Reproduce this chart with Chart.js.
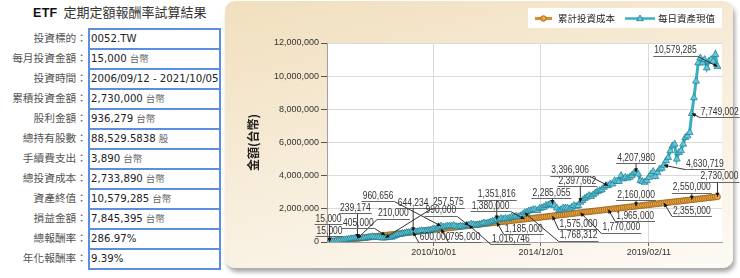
<!DOCTYPE html>
<html><head><meta charset="utf-8">
<script src="https://cdn.jsdelivr.net/npm/chart.js@4.4.1/dist/chart.umd.min.js"></script>
<style>
html,body{margin:0;padding:0;background:#fff;width:740px;height:278px;overflow:hidden;}
#title{position:absolute;left:33px;top:3px;font:13px 'Noto Sans CJK TC';color:#333;white-space:nowrap;line-height:18px}
#title b{font:bold 12.5px 'Liberation Sans';color:#111;letter-spacing:0.3px;margin-right:6px}
.lab{position:absolute;left:0;width:87px;text-align:right;font:10.7px 'Noto Sans CJK TC';color:#555;line-height:20px;height:20px;white-space:nowrap}
.val{position:absolute;left:88px;width:133px;height:20px;box-sizing:border-box;border:2px solid #5b8ee0;border-bottom:none;font:10.2px 'DejaVu Sans';color:#222;line-height:17px;padding-left:1px;white-space:nowrap;overflow:hidden;background:#fff}
.val.last{height:22px;border-bottom:2px solid #5b8ee0}
.val span{font:9.5px 'Noto Sans CJK TC';color:#666;margin-left:3px}
#panel{position:absolute;left:225px;top:1px;width:508px;height:267px;border-radius:10px;background:linear-gradient(165deg,#f1dfbd 0%,#f7ecd9 45%,#fdfaf5 100%);box-shadow:2px 4px 4px rgba(0,0,0,0.35)}
#c{position:absolute;left:225px;top:0}
</style></head>
<body>
<div id="title"><b>ETF</b>定期定額報酬率試算結果</div>
<div id="tbl"></div>
<div id="panel"></div>
<canvas id="c" width="515" height="278"></canvas>
<script>
// ---- summary table ----
const tableLabels = ['投資標的：','每月投資金額：','投資時間：','累積投資金額：','股利金額：','總持有股數：','手續費支出：','總投資成本：','資產終值：','損益金額：','總報酬率：','年化報酬率：'];
const tableValues = ['0052.TW','15,000','2006/09/12 - 2021/10/05','2,730,000','936,279','88,529.5838','3,890','2,733,890','10,579,285','7,845,395','286.97%','9.39%'];
const tableUnits  = ['','台幣','','台幣','台幣','股','台幣','台幣','台幣','台幣','',''];

// ---- chart data ----
const seriesNames = ['累計投資成本','每日資產現值'];
const yTitle = '金額(台幣)';
const startDate = '2006/09/12';
const xTickDates = ['2010/10/01','2014/12/01','2019/02/11'];
const yTicks = [0,2000000,4000000,6000000,8000000,10000000,12000000];

// cumulative cost (thousand TWD), monthly
const costK = [15,30,45,60,75,90,105,120,135,150,165,180,
195,210,225,240,255,270,285,300,315,330,345,360,
375,390,405,420,435,450,465,480,495,510,525,540,
555,570,585,600,615,630,645,660,675,690,705,720,
735,750,765,780,795,810,825,840,855,870,885,900,
915,930,945,960,975,990,1005,1020,1035,1050,1065,1080,
1095,1110,1125,1140,1155,1170,1185,1200,1215,1230,1245,1260,
1275,1290,1305,1320,1335,1350,1365,1380,1395,1410,1425,1440,
1455,1470,1485,1500,1515,1530,1545,1560,1575,1590,1605,1620,
1635,1650,1665,1680,1695,1710,1725,1740,1755,1770,1785,1800,
1815,1830,1845,1860,1875,1890,1905,1920,1935,1950,1965,1980,
1995,2010,2025,2040,2055,2070,2085,2100,2115,2130,2145,2160,
2175,2190,2205,2220,2235,2250,2265,2280,2295,2310,2325,2340,
2355,2370,2385,2400,2415,2430,2445,2460,2475,2490,2505,2520,
2535,2550,2565,2580,2595,2610,2625,2640,2655,2670,2685,2700,
2715,2730];

// asset value (TWD), monthly
const assetValue = [15000,31000,48000,66000,
80000,97000,112000,128000,150000,172000,198000,200000,225000,239174,232000,240000,
225000,250000,275000,300000,320000,290000,280000,290000,260000,235000,257575,270000,
280000,290000,340000,400000,450000,460000,510000,520000,570000,575000,590000,644234,
610000,620000,660000,680000,640000,650000,700000,700000,760000,780000,810000,890000,
960656,900000,920000,960000,970000,960000,1000000,930000,900000,960000,930000,950000,
1000000,1016746,1080000,1040000,1000000,1030000,1060000,1100000,1150000,1120000,1150000,1200000,
1250000,1280000,1351816,1340000,1420000,1380000,1420000,1400000,1450000,1500000,1510000,1560000,
1520000,1580000,1650000,1768312,1800000,1870000,1900000,1950000,1950000,1900000,2030000,2060000,
2100000,2200000,2230000,2290000,2285055,2200000,2050000,1900000,1950000,2050000,2050000,2050000,
2000000,2100000,2200000,2150000,2200000,2397662,2500000,2620000,2700000,2800000,2750000,2850000,
2950000,3050000,3100000,3150000,3300000,3400000,3396906,3500000,3500000,3700000,3650000,3650000,
4000000,3800000,3900000,3850000,3900000,4000000,4150000,4207980,4100000,3700000,3650000,3600000,
3700000,3900000,4100000,4250000,3950000,4200000,4400000,4450000,4630719,4900000,5100000,5500000,
5800000,5900000,5000000,5400000,5500000,5900000,6300000,6400000,6600000,7749002,8700000,9700000,
10800000,11100000,10800000,11000000,10500000,10900000,11000000,10900000,11300000,10579285];

// months that carry a value callout
const annotIdx = [0,13,26,39,52,65,78,91,104,117,130,143,156,169,181];
// callout label offsets (px) from their point
const valueLabelOffsets = [[-1,-23],[-2,-30],[63,-35],[0,-28],[-63,-30],[42,14],[0,-25],[54,23],[-1,-11],[-3,-21],[-38,-15],[0,-14],[41,-1],[28,-1],[-42,-16]];
const costLabelOffsets  = [[0,-11],[36,-25],[-27,-12],[22,5],[24,8],[-28,-15],[27,7],[-34,-13],[26,8],[41,15],[27,7],[0,-11],[28,8],[0,-12],[2,-20]];

// ---- build table ----
const tbl = document.getElementById('tbl');
tableLabels.forEach((l,i)=>{
  const a = document.createElement('div'); a.className='lab'; a.style.top=(28+20*i)+'px'; a.textContent=l; tbl.appendChild(a);
  const v = document.createElement('div'); v.className='val'+(i===tableLabels.length-1?' last':''); v.style.top=(28+20*i)+'px';
  v.textContent = tableValues[i];
  if (tableUnits[i]) { const s=document.createElement('span'); s.textContent=tableUnits[i]; v.appendChild(s); }
  tbl.appendChild(v);
});

// ---- chart ----
const costSeries = costK.map(v=>v*1000);
function monthsFromStart(d){
  const [y0,m0,d0] = startDate.split('/').map(Number);
  const [y,m,dd] = d.split('/').map(Number);
  return (y-y0)*12 + (m-m0) + (dd-d0)/30.44;
}
const xTickPos = xTickDates.map(monthsFromStart);
const fmt = v => Number(v).toLocaleString('en-US');

const bgPlugin = {
  id:'bg',
  beforeDraw(chart){
    const {ctx, chartArea:a} = chart;
    ctx.save(); ctx.fillStyle='#fff'; ctx.fillRect(a.left,a.top,a.right-a.left,a.bottom-a.top); ctx.restore();
  }
};

function drawCallout(c, px, py, text, dx, dy){
  const sx = 0.85;
  c.font = '10px "Liberation Sans"';
  const w = c.measureText(text).width * sx;
  const cx = px+dx, cy = py+dy;
  const l = cx - w/2 - 1, r = cx + w/2 + 1, uy = Math.round(cy + 5) + 0.5;
  c.fillStyle = '#333';
  c.save(); c.translate(cx, cy); c.scale(sx,1); c.textAlign='center'; c.textBaseline='middle'; c.fillText(text,0,0); c.restore();
  c.strokeStyle = '#666'; c.lineWidth = 1;
  c.beginPath(); c.moveTo(l,uy); c.lineTo(r,uy); c.stroke();
  const sxp = px < l ? l : (px > r ? r : px);
  c.strokeStyle = '#333';
  c.beginPath(); c.moveTo(sxp, uy); c.lineTo(px, py); c.stroke();
  const dist = Math.hypot(px-sxp, py-uy);
  if (dist > 3){
    const ang = Math.atan2(py-uy, px-sxp), len = 4.5;
    c.fillStyle = '#111';
    c.beginPath(); c.moveTo(px,py);
    c.lineTo(px - len*Math.cos(ang-0.45), py - len*Math.sin(ang-0.45));
    c.lineTo(px - len*Math.cos(ang+0.45), py - len*Math.sin(ang+0.45));
    c.closePath(); c.fill();
  }
}

const annotPlugin = {
  id:'annot',
  afterDatasetsDraw(chart){
    const c = chart.ctx;
    const metaV = chart.getDatasetMeta(0), metaC = chart.getDatasetMeta(1);
    c.save();
    annotIdx.forEach((idx,k)=>{
      const pc = metaC.data[idx], pv = metaV.data[idx];
      drawCallout(c, pc.x, pc.y, fmt(costSeries[idx]), costLabelOffsets[k][0], costLabelOffsets[k][1]);
      drawCallout(c, pv.x, pv.y, fmt(assetValue[idx]), valueLabelOffsets[k][0], valueLabelOffsets[k][1]);
    });
    c.restore();
  }
};

const legendPlugin = {
  id:'lg',
  afterDraw(chart){
    const c = chart.ctx; const ds = chart.data.datasets;
    c.save();
    c.fillStyle='#fff'; c.fillRect(303,8,194,20);
    const y = 18.5;
    c.strokeStyle = ds[1].borderColor; c.lineWidth = 3;
    c.beginPath(); c.moveTo(310,y); c.lineTo(327,y); c.stroke();
    c.fillStyle = ds[1].pointBackgroundColor; c.strokeStyle = ds[1].pointBorderColor; c.lineWidth=0.8;
    c.beginPath(); c.arc(318.5,y,2.8,0,Math.PI*2); c.fill(); c.stroke();
    c.font = '9.5px "Noto Sans CJK TC"'; c.fillStyle='#222'; c.textBaseline='middle'; c.textAlign='left';
    c.fillText(ds[1].label, 333, y);
    c.strokeStyle = ds[0].borderColor; c.lineWidth = 2.5;
    c.beginPath(); c.moveTo(400,y); c.lineTo(430,y); c.stroke();
    c.fillStyle = ds[0].pointBackgroundColor; c.strokeStyle = ds[0].pointBorderColor; c.lineWidth=0.8;
    c.beginPath(); c.moveTo(415,y-3.5); c.lineTo(418.5,y+2.2); c.lineTo(411.5,y+2.2); c.closePath(); c.fill(); c.stroke();
    c.fillStyle='#222';
    c.fillText(ds[0].label, 433, y);
    c.restore();
  }
};

new Chart(document.getElementById('c'), {
  type:'line',
  data:{ datasets:[
    { label: seriesNames[1], data: assetValue.map((v,i)=>({x:i,y:v})), order:0,
      borderColor:'#3aaec4', borderWidth:3, pointStyle:'triangle', pointRadius:4,
      pointBackgroundColor:'#62c8da', pointBorderColor:'#1d7a8c', pointBorderWidth:0.7, tension:0 },
    { label: seriesNames[0], data: costSeries.map((v,i)=>({x:i,y:v})), order:1,
      borderColor:'#d98e2b', borderWidth:4, pointStyle:'circle', pointRadius:3,
      pointBackgroundColor:'#eea53e', pointBorderColor:'#8c5a1a', pointBorderWidth:0.7, tension:0 }
  ]},
  options:{
    responsive:false, animation:false, devicePixelRatio:1,
    layout:{padding:{left:0,right:18,top:43,bottom:0}},
    plugins:{legend:{display:false}, tooltip:{enabled:false}},
    scales:{
      x:{ type:'linear', min:-1.2, max:183.1,
        afterBuildTicks:s=>{ s.ticks = xTickPos.map(v=>({value:v})); },
        afterFit:s=>{ s.height = 36; },
        ticks:{ autoSkip:false, maxRotation:0, padding:1, color:'#333',
          font:{family:'Liberation Sans', size:9},
          callback:(v)=>{ const k = xTickPos.findIndex(p=>Math.abs(p-v)<1e-6); return k>=0 ? xTickDates[k] : ''; } },
        grid:{ color:'#dadada', tickColor:'#666', tickLength:4 },
        border:{ color:'#a0a0a0' } },
      y:{ min:0, max:12000000,
        afterBuildTicks:s=>{ s.ticks = yTicks.map(v=>({value:v})); },
        afterFit:s=>{ s.width = 102; },
        ticks:{ padding:2, color:'#333', font:{family:'Liberation Sans', size:9}, callback:v=>fmt(v) },
        grid:{ color:'#dadada', tickColor:'#555', tickLength:6 },
        border:{ color:'#a0a0a0' },
        title:{ display:true, text:yTitle, color:'#222', font:{family:'Noto Sans CJK TC', size:12, weight:'bold'}, padding:{top:21,bottom:0} } }
    }
  },
  plugins:[bgPlugin, annotPlugin, legendPlugin]
});
</script>
</body></html>
